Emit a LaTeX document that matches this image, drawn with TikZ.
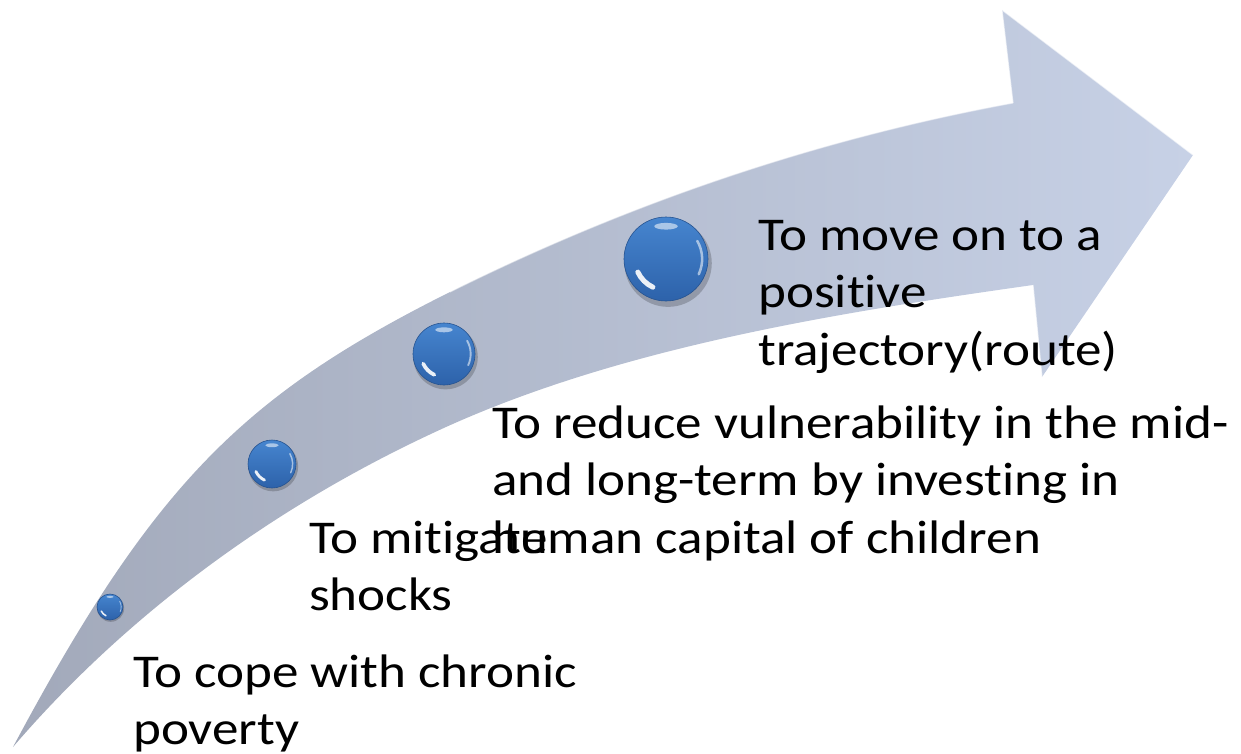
\documentclass[tikz,border=0pt]{standalone}
\usepackage{fontspec}
\setmainfont{Carlito}[FakeStretch=1.13, Ligatures=NoCommon]
\definecolor{tailcol}{HTML}{A2A9BA}
\definecolor{headcol}{HTML}{C7D1E6}
\definecolor{sphtop}{HTML}{4685CF}
\definecolor{sphbot}{HTML}{2D62AA}
\tikzset{
  labeltext/.style={anchor=base west, inner sep=0pt, font=\fontsize{47}{57.5}\selectfont, text=black},
  sphere/.style={circle, inner sep=0pt, top color=sphtop, bottom color=sphbot, draw=sphbot!85!black, line width=0.6pt},
  hilite/.style={white, line cap=round},
}
\newcommand\mysphere[4]{%
  \begin{scope}[shift={(#2,#3)}, x=1pt, y=1pt]
    \fill[black, opacity=0.20] (0.05*#4,-0.10*#4) circle[radius=1.04*#4];
    \node[sphere, minimum size={2*#4pt}] (#1) at (0,0) {};
    \draw[hilite, opacity=0.9, line width={0.12*#4pt}] (205:0.74*#4) arc[start angle=205, end angle=245, radius=0.74*#4];
    \draw[hilite, opacity=0.55, line width={0.06*#4pt}] (-25:0.86*#4) arc[start angle=-25, end angle=30, radius=0.86*#4];
    \fill[white, opacity=0.55] (0,0.78*#4) ellipse[x radius=0.28*#4, y radius=0.08*#4];
  \end{scope}}
\begin{document}
\begin{tikzpicture}[x=1pt, y=-1pt]
\useasboundingbox (0,0) rectangle (1241,754);
% curved arrow
\path[shade, left color=tailcol, right color=headcol]
  (13,747) .. controls (154,483) and (244,395) .. (450,292)
  .. controls (629,203) and (817,139) .. (1013,103)
  -- (1002,10) -- (1193,155) -- (1042,377) -- (1033,285)
  .. controls (835,313) and (614,348) .. (433,433)
  .. controls (274,507) and (127,614) .. (13,747)
  -- cycle;
\draw[white, opacity=0.6, line width=1.2pt] (1013,103) -- (1002,10) -- (1193,155);
\draw[white, opacity=0.6, line width=1.2pt] (1033,285) -- (1042,377);
\draw[white, opacity=0.5, line width=1.2pt] (450,292) .. controls (629,203) and (817,139) .. (1013,103);
% spheres
\mysphere{s1}{110}{607}{13}
\mysphere{s2}{272}{464}{24}
\mysphere{s3}{444}{354}{31}
\mysphere{s4}{666}{259}{42}
% texts
\node[labeltext] (cope) at (133,687) {\begin{tabular}[t]{@{}l@{}}To cope with chronic\\poverty\end{tabular}};
\node[labeltext] (mitigate) at (309,553) {\begin{tabular}[t]{@{}l@{}}To mitigate\\shocks\end{tabular}};
\node[labeltext] (reduce) at (492,438) {\begin{tabular}[t]{@{}l@{}}To reduce vulnerability in the mid-\\and long-term by investing in\\human capital of children\end{tabular}};
\node[labeltext] (move) at (758,250) {\begin{tabular}[t]{@{}l@{}}To move on to a\\positive\\trajectory(route)\end{tabular}};
\end{tikzpicture}
\end{document}
